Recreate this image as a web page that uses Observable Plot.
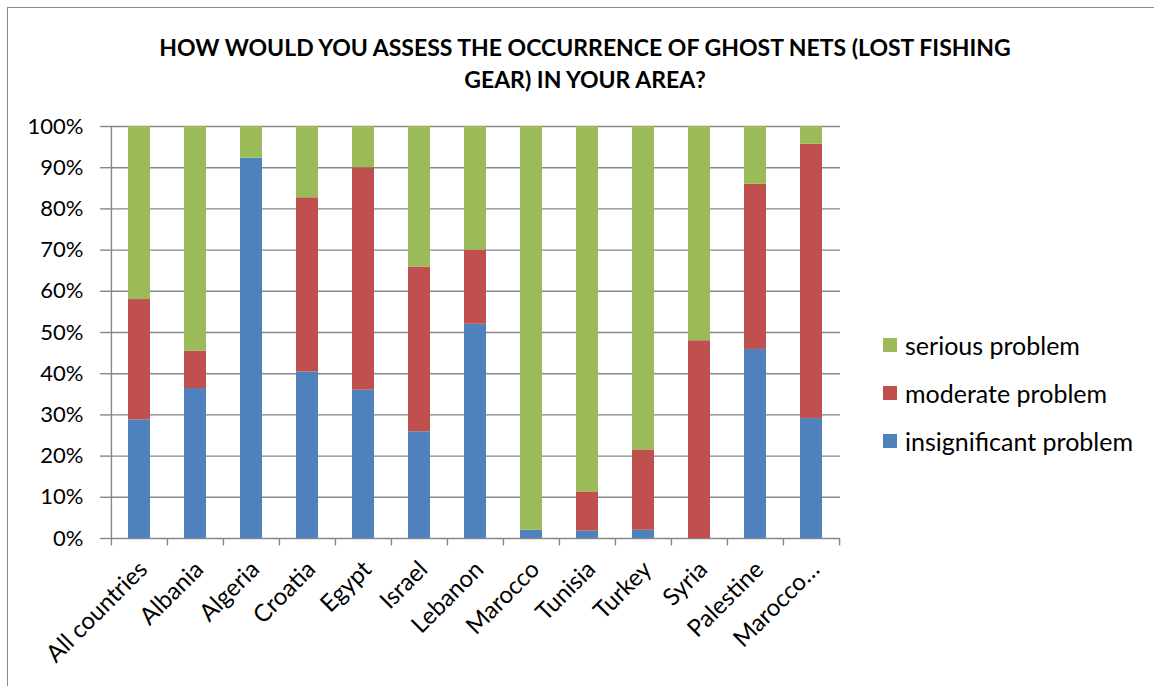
<!DOCTYPE html>
<html>
<head>
<meta charset="utf-8">
<script src="https://cdn.jsdelivr.net/npm/d3@7"></script>
<script src="https://cdn.jsdelivr.net/npm/@observablehq/plot@0.6"></script>
<style>
  html, body { margin: 0; padding: 0; background: #fff; }
  #wrap { position: relative; width: 1154px; height: 686px; overflow: hidden; font-family: Lato, "Open Sans", sans-serif; }
  #border { position: absolute; left: 7px; top: 7px; width: 1170px; height: 720px; border: 1.5px solid #8a8a8a; box-sizing: border-box; }
  #title { position: absolute; left: 0; top: 31px; width: 1170px; text-align: center; font-weight: bold; font-size: 23px; line-height: 32px; color: #000; }
  #chart { position: absolute; left: 0; top: 0; }
  #legend { position: absolute; left: 883px; top: 321px; font-size: 25px; color: #000; }
  .item { display: flex; align-items: center; height: 48px; }
  .sw { width: 14px; height: 14px; margin-right: 8px; }
</style>
</head>
<body>
<div id="wrap">
  <div id="border"></div>
  <div id="chart"></div>
  <div id="title">HOW WOULD YOU ASSESS THE OCCURRENCE OF GHOST NETS (LOST FISHING<br>GEAR) IN YOUR AREA?</div>
  <div id="legend"></div>
</div>
<script>
const countries = ["All countries","Albania","Algeria","Croatia","Egypt","Israel","Lebanon","Marocco","Tunisia","Turkey","Syria","Palestine","Marocco…"];
const insignificant = [28.8, 36.4, 92.3, 40.4, 36.0, 25.9, 52.0, 2.0, 1.8, 2.0, 0, 45.9, 29.1];
const moderate      = [29.2, 9.1, 0, 42.3, 54.0, 40.0, 18.0, 0, 9.5, 19.5, 48.0, 40.1, 66.6];
const serious       = [42.0, 54.5, 7.7, 17.3, 10.0, 34.1, 30.0, 98.0, 88.7, 78.5, 52.0, 14.0, 4.3];
const seriesNames = ["insignificant problem", "moderate problem", "serious problem"];
const seriesColors = ["#4F81BD", "#C0504D", "#9BBB59"];
const yTicks = [0, 10, 20, 30, 40, 50, 60, 70, 80, 90, 100];

const seriesValues = [insignificant, moderate, serious];
const data = [];
countries.forEach((c, i) => {
  seriesNames.forEach((s, k) => data.push({country: c, series: s, value: seriesValues[k][i]}));
});

const W = 1154, H = 686;
const mL = 110, mR = 314, mT = 126, mB = 148;
const step = (W - mL - mR) / countries.length;
const gridColor = "#878787";

const chart = Plot.plot({
  width: W, height: H,
  marginLeft: mL, marginRight: mR, marginTop: mT, marginBottom: mB,
  style: {fontFamily: "Lato, 'Open Sans', sans-serif", color: "#000", background: "transparent", overflow: "visible"},
  x: {domain: countries, paddingInner: 0.6, paddingOuter: 0.3, label: null},
  y: {domain: [0, 100], label: null},
  color: {domain: seriesNames, range: seriesColors},
  marks: [
    Plot.ruleY(yTicks, {stroke: gridColor, strokeWidth: 1.4}),
    Plot.ruleX([countries[0]], {dx: -step / 2, y1: 0, y2: 100, stroke: gridColor, strokeWidth: 1.4}),
    Plot.ruleX(countries, {dx: -step / 2, y1: 0, y2: -1.8, stroke: gridColor, strokeWidth: 1.4}),
    Plot.ruleX([countries[countries.length - 1]], {dx: step / 2, y1: 0, y2: -1.8, stroke: gridColor, strokeWidth: 1.4}),
    Plot.barY(data, {x: "country", y: "value", fill: "series", order: seriesNames}),
    Plot.axisY({ticks: yTicks, tickFormat: d => d + "%", tickSize: 10, tickPadding: 17, fontSize: 22, stroke: gridColor, strokeWidth: 1.4, label: null}),
    Plot.axisX({tickSize: 0, tickRotate: -45, tickPadding: 27, dx: 4, fontSize: 24, label: null})
  ]
});
document.getElementById("chart").appendChild(chart);

const legend = document.getElementById("legend");
[2, 1, 0].forEach(k => {
  const row = document.createElement("div");
  row.className = "item";
  row.innerHTML = `<span class="sw" style="background:${seriesColors[k]}"></span><span>${seriesNames[k]}</span>`;
  legend.appendChild(row);
});
</script>
</body>
</html>
